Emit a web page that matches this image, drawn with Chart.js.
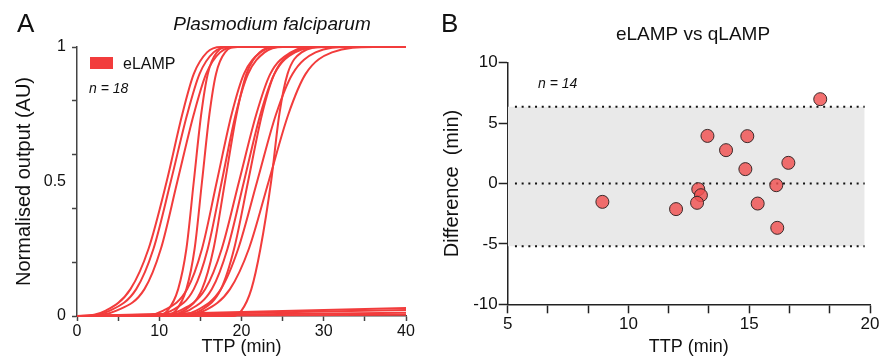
<!DOCTYPE html>
<html>
<head>
<meta charset="utf-8">
<script src="https://cdn.jsdelivr.net/npm/chart.js@4.4.1/dist/chart.umd.min.js"></script>
<style>
  html, body { margin: 0; padding: 0; background: #fff; }
  #wrap { position: relative; width: 880px; height: 358px; overflow: hidden; }
  canvas { position: absolute; top: 0; }
  #chartA { left: 0; }
  #chartB { left: 440px; }
</style>
</head>
<body>
<div id="wrap">
  <canvas id="chartA" width="440" height="358"></canvas>
  <canvas id="chartB" width="440" height="358"></canvas>
</div>
<script>
// ---- Panel A: eLAMP amplification curves ----
// every curve: time (min) at which it reaches each output level
const levels = [0, 0.02, 0.1, 0.25, 0.5, 0.75, 0.9, 0.98, 1];
const curveTimes = [
  [0.3, 3.5, 6.5, 8.7, 10.9, 12.8, 14.2, 15.8, 17.5],
  [0.5, 4.0, 7.2, 9.3, 11.4, 13.4, 14.9, 16.6, 18.5],
  [0.8, 4.8, 8.2, 10.2, 12.2, 14.2, 15.7, 17.4, 19.5],
  [9.5, 11.0, 12.3, 13.3, 14.2, 15.1, 15.9, 17.0, 18.5],
  [10.5, 12.0, 13.3, 14.3, 15.2, 16.1, 16.9, 18.0, 19.5],
  [7.0, 10.5, 13.4, 15.2, 17.0, 18.8, 20.3, 22.3, 24.5],
  [8.0, 11.5, 14.2, 15.9, 17.6, 19.3, 20.8, 22.8, 25.0],
  [10.0, 13.0, 15.2, 16.6, 18.0, 19.4, 20.6, 22.2, 24.0],
  [9.0, 12.5, 15.6, 17.6, 19.7, 21.8, 23.5, 26.0, 29.0],
  [10.0, 13.5, 16.4, 18.3, 20.3, 22.3, 24.0, 26.5, 30.0],
  [12.0, 15.0, 17.5, 19.1, 20.8, 22.5, 24.0, 26.2, 29.0],
  [11.0, 14.5, 17.5, 19.6, 21.9, 24.2, 26.2, 29.0, 33.0],
  [12.0, 15.5, 18.6, 20.9, 23.3, 25.7, 27.8, 31.0, 36.0],
  [19.0, 20.0, 21.2, 22.3, 23.6, 24.6, 25.6, 27.3, 30.0]
];
// negative samples: output reached at 40 min
const negativeEnds = [0.03, 0.022, 0.012, 0.005];
const xTicksA = [0, 5, 10, 15, 20, 25, 30, 35, 40];
const xLabelsA = [0, 10, 20, 30, 40];
const yTicksA = [0, 0.2, 0.4, 0.5, 0.6, 0.8, 1];
const yLabelsA = [0, 0.5, 1];

// ---- Panel B: Bland-Altman eLAMP vs qLAMP ----
const ttp = [8.92, 11.97, 12.89, 13.0, 12.84, 13.27, 14.04, 14.92, 14.84, 15.35, 16.12, 16.16, 16.62, 17.94];
const diff = [-1.52, -2.12, -0.47, -0.97, -1.6, 3.94, 2.76, 3.92, 1.19, -1.66, -0.14, -3.67, 1.71, 6.98];
const upperLoA = 6.35;
const lowerLoA = -5.2;
const bias = 0;
const bandX = [5, 19.78];
const xTicksB = [5, 6.667, 8.333, 10, 11.667, 13.333, 15, 16.667, 18.333, 20];
const xLabelsB = [5, 10, 15, 20];
const yTicksB = [-10, -5, 0, 5, 10];

const FONT = 'Arial, "Liberation Sans", sans-serif';
const RED = '#f23c3c';
Chart.defaults.font.family = FONT;
Chart.defaults.color = '#111';

// free text / legend swatch drawn on top of each chart
const notes = {
  id: 'notes',
  afterDraw(chart, args, opts) {
    const ctx = chart.ctx;
    (opts.items || []).forEach(it => {
      ctx.save();
      if (it.rect) {
        ctx.fillStyle = it.color;
        ctx.fillRect(it.x, it.y, it.w, it.h);
      } else {
        ctx.font = it.font + ' ' + FONT;
        ctx.fillStyle = it.color || '#111';
        ctx.textAlign = it.align || 'left';
        ctx.textBaseline = 'alphabetic';
        ctx.fillText(it.text, it.x, it.y);
      }
      ctx.restore();
    });
  }
};

function fixV(w) {
  return s => { s.width = w; s.paddingTop = 0; s.paddingBottom = 0; };
}
function fixH(h) {
  return s => { s.height = h; s.paddingLeft = 0; s.paddingRight = 0; };
}

// build datasets for A
const dsA = curveTimes.map(t => ({
  data: [{ x: 0, y: 0 }].concat(levels.map((l, i) => ({ x: t[i], y: l })), [{ x: 40, y: 1 }]),
  borderColor: RED,
  borderWidth: 2,
  pointRadius: 0,
  cubicInterpolationMode: 'monotone',
  clip: 4
}));
negativeEnds.forEach(v => {
  dsA.push({
    data: [{ x: 0, y: 0 }, { x: 40, y: v }],
    borderColor: RED,
    borderWidth: 2,
    pointRadius: 0,
    clip: 4
  });
});

new Chart(document.getElementById('chartA'), {
  type: 'line',
  data: { datasets: dsA },
  options: {
    responsive: false,
    animation: false,
    events: [],
    layout: { padding: { left: 0, top: 47, right: 34, bottom: 0 } },
    plugins: {
      legend: { display: false },
      tooltip: { enabled: false },
      notes: {
        items: [
          { text: 'A', x: 17, y: 32, font: '26px' },
          { text: 'Plasmodium falciparum', x: 272, y: 30, font: 'italic 19px', align: 'center' },
          { rect: true, x: 90, y: 57, w: 23, h: 12, color: RED },
          { text: 'eLAMP', x: 123, y: 69, font: '16px' },
          { text: 'n = 18', x: 89, y: 93, font: 'italic 14px' }
        ]
      }
    },
    scales: {
      x: {
        type: 'linear', min: 0, max: 40,
        afterBuildTicks: s => { s.ticks = xTicksA.map(v => ({ value: v })); },
        afterFit: fixH(42),
        ticks: { callback: v => xLabelsA.includes(v) ? String(v) : '', font: { size: 16 }, padding: 1, maxRotation: 0, autoSkip: false },
        grid: { drawOnChartArea: false, tickLength: 5, tickColor: '#444', tickWidth: 1.5 },
        border: { color: '#444', width: 1.5 },
        title: { display: true, text: 'TTP (min)', font: { size: 18 }, padding: 0 }
      },
      y: {
        type: 'linear', min: 0, max: 1,
        afterBuildTicks: s => { s.ticks = yTicksA.map(v => ({ value: v })); },
        afterFit: fixV(77),
        ticks: { callback: v => yLabelsA.includes(v) ? String(v) : '', font: { size: 16 }, padding: 6, autoSkip: false },
        grid: {
          drawOnChartArea: false, tickLength: 5, tickWidth: 1.5,
          tickColor: c => (c.tick && c.tick.value === 0.5) ? 'rgba(0,0,0,0)' : '#444'
        },
        border: { color: '#444', width: 1.5 },
        title: { display: true, text: 'Normalised output (AU)', font: { size: 20 }, padding: { top: 12, bottom: 0 } }
      }
    }
  },
  plugins: [notes]
});

// ---- B ----
const dotted = y => ({
  data: [{ x: 5.3, y: y }, { x: bandX[1], y: y }],
  borderColor: '#111',
  borderWidth: 2,
  borderDash: [2, 4.7],
  borderCapStyle: 'butt',
  pointRadius: 0,
  order: 1
});

new Chart(document.getElementById('chartB'), {
  type: 'line',
  data: {
    datasets: [
      {
        data: ttp.map((x, i) => ({ x: x, y: diff[i] })),
        showLine: false,
        pointRadius: 6.5,
        pointBackgroundColor: 'rgba(240, 80, 80, 0.82)',
        pointBorderColor: '#3a2a2a',
        pointBorderWidth: 1,
        order: 0
      },
      dotted(upperLoA),
      dotted(bias),
      dotted(lowerLoA),
      {
        data: bandX.map(x => ({ x: x, y: upperLoA })),
        borderWidth: 0,
        pointRadius: 0,
        backgroundColor: '#e9e9e9',
        fill: { value: lowerLoA },
        order: 2
      }
    ]
  },
  options: {
    responsive: false,
    animation: false,
    events: [],
    layout: { padding: { left: 0, top: 62.7, right: 10, bottom: 0 } },
    plugins: {
      legend: { display: false },
      tooltip: { enabled: false },
      notes: {
        items: [
          { text: 'B', x: 1, y: 32, font: '26px' },
          { text: 'eLAMP vs qLAMP', x: 253, y: 40, font: '19px', align: 'center' },
          { text: 'n = 14', x: 98, y: 88, font: 'italic 14px' }
        ]
      }
    },
    scales: {
      x: {
        type: 'linear', min: 5, max: 20,
        afterBuildTicks: s => { s.ticks = xTicksB.map(v => ({ value: v })); },
        afterFit: fixH(53.7),
        ticks: { callback: v => xLabelsB.includes(v) ? String(v) : '', font: { size: 17 }, padding: 1, maxRotation: 0, autoSkip: false },
        grid: { drawOnChartArea: false, tickLength: 9, tickColor: '#222', tickWidth: 1.5 },
        border: { color: '#222', width: 1.5 },
        title: { display: true, text: 'TTP (min)', font: { size: 18 }, padding: 0 }
      },
      y: {
        type: 'linear', min: -10, max: 10,
        afterBuildTicks: s => { s.ticks = yTicksB.map(v => ({ value: v })); },
        afterFit: fixV(67.7),
        ticks: { font: { size: 17 }, padding: 1, autoSkip: false },
        grid: { drawOnChartArea: false, tickLength: 9, tickColor: '#222', tickWidth: 1.5 },
        border: { color: '#222', width: 1.5 },
        title: { display: true, text: 'Difference  (min)', font: { size: 20 }, padding: { top: 0, bottom: 0 } }
      }
    }
  },
  plugins: [notes]
});
</script>
</body>
</html>
